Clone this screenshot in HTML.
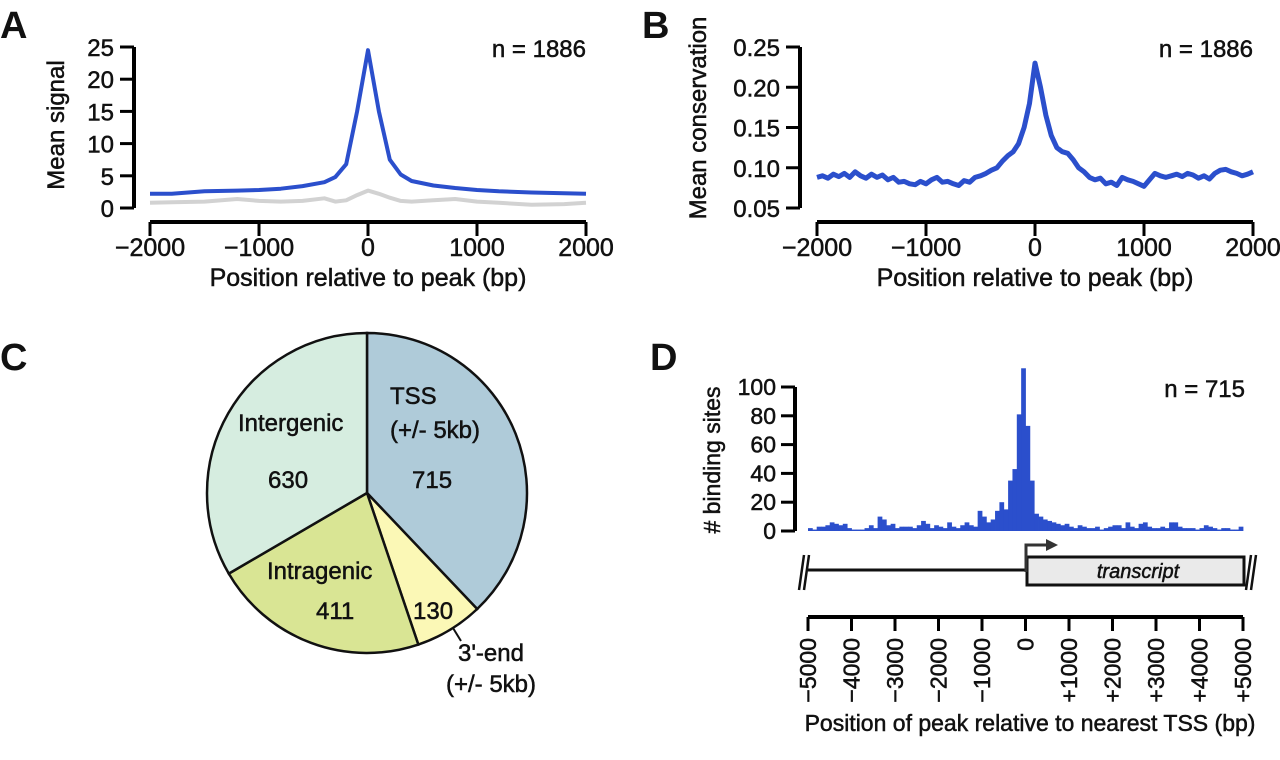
<!DOCTYPE html>
<html><head><meta charset="utf-8"><style>
html,body{margin:0;padding:0;background:#fff;}
svg{display:block;font-family:"Liberation Sans",Arial,sans-serif;}
text{fill:#111;stroke:#111;stroke-width:0.5px;}
.lt{font-weight:bold;stroke-width:0;}
</style></head><body>
<svg id="fig" width="1280" height="760" viewBox="0 0 1280 760" xmlns="http://www.w3.org/2000/svg">
<text class="lt" x="0" y="38" font-size="38">A</text>
<text class="lt" x="642" y="38" font-size="38">B</text>
<text class="lt" x="0" y="370" font-size="38">C</text>
<text class="lt" x="650" y="370" font-size="38">D</text>
<g id="A"></g>
<g id="B"></g>
<g id="C"></g>
<g id="D"></g>
</svg>
<script>
// ---- Panel A data ----
const aX = [-2000,-1800,-1500,-1200,-1000,-800,-600,-400,-300,-200,-100,0,100,200,300,400,600,800,1000,1200,1500,1800,2000];
const aSignal = [2.2,2.2,2.6,2.7,2.8,3.0,3.4,4.0,4.8,6.8,15,24.5,15,7.5,5.2,4.2,3.5,3.1,2.8,2.6,2.4,2.3,2.2];
const aControl = [0.8,0.9,1.0,1.4,1.1,1.0,1.1,1.5,1.0,1.2,2.0,2.7,2.2,1.6,1.1,1.0,1.2,1.4,1.0,0.8,0.5,0.6,0.8];
const aYTicks = [0,5,10,15,20,25];
const xTicks = [-2000,-1000,0,1000,2000];
// ---- Panel B data ----
const bValues = [0.088,0.09,0.087,0.092,0.089,0.093,0.088,0.095,0.09,0.087,0.092,0.088,0.091,0.085,0.088,0.082,0.083,0.08,0.079,0.083,0.08,
0.085,0.088,0.082,0.083,0.08,0.078,0.084,0.082,0.088,0.09,0.093,0.097,0.1,0.108,0.115,0.12,0.13,0.15,0.18,
0.23,
0.2,0.165,0.14,0.125,0.12,0.118,0.11,0.1,0.095,0.088,0.085,0.087,0.08,0.082,0.078,0.088,0.085,0.083,0.08,0.077,
0.085,0.093,0.09,0.088,0.09,0.092,0.089,0.093,0.091,0.087,0.09,0.086,0.093,0.097,0.098,0.095,0.093,0.09,0.092,0.095];
const bYTicks = [0.05,0.10,0.15,0.20,0.25];
const bYLabels = ["0.05","0.10","0.15","0.20","0.25"];
// ---- Panel C data ----
const pieLabels = ["TSS","3'-end","Intragenic","Intergenic"];
const pieValues = [715,130,411,630];
const pieColors = ["#afcbd9","#fbf8b6","#d9e594","#d6ede0"];
// ---- Panel D data ----
const dCounts = [2,1,3,3,4,6,5,4,5,2, 1,1,1,2,4,2,10,8,4,5, 2,3,3,3,2,4,7,5,2,4,
 3,2,6,3,2,4,6,4,3,14, 10,6,8,14,20,15,35,43,81,113,
 73,35,12,10,8,7,6,5,4,5, 3,2,4,3,2,2,3,1,2,3, 4,4,2,6,3,2,5,6,3,2,
 2,3,2,6,6,3,2,2,2,1, 2,4,3,2,1,2,2,1,1,3];
const dYTicks = [0,20,40,60,80,100];
const dXTicks = [-5000,-4000,-3000,-2000,-1000,0,1000,2000,3000,4000,5000];
const dXLabels = ["\u22125000","\u22124000","\u22123000","\u22122000","\u22121000","0","+1000","+2000","+3000","+4000","+5000"];

const NS="http://www.w3.org/2000/svg";
function mk(parent,tag,attrs,txt){const e=document.createElementNS(NS,tag);for(const k in attrs)e.setAttribute(k,attrs[k]);if(txt!==undefined)e.textContent=txt;parent.appendChild(e);return e;}
function lin(d0,d1,r0,r1){return v=>r0+(v-d0)*(r1-r0)/(d1-d0);}

function linePanel(g,opt){
  const sx=lin(-2000,2000,opt.x0,opt.x1), sy=lin(opt.ymin,opt.ymax,opt.yb,opt.yt);
  const ya=mk(g,'line',{x1:opt.ax,y1:opt.yt,x2:opt.ax,y2:opt.yb,stroke:'#000','stroke-width':4});
  
  
  opt.yticks.forEach((t,i)=>{
    const tk=mk(g,'line',{x1:opt.ax-14,x2:opt.ax,y1:sy(t),y2:sy(t),stroke:'#000','stroke-width':3});
    
    
    const tl=mk(g,'text',{x:opt.ax-20,y:sy(t)+9,'text-anchor':'end','font-size':24},opt.ylabels[i]);
    
    
  });
  const xa=mk(g,'line',{x1:opt.x0,x2:opt.x1,y1:222,y2:222,stroke:'#000','stroke-width':4});
  
  
  xTicks.forEach(t=>{
    const tk=mk(g,'line',{x1:sx(t),x2:sx(t),y1:222,y2:236,stroke:'#000','stroke-width':3});
    
    
    const tl=mk(g,'text',{x:sx(t),y:256,'text-anchor':'middle','font-size':25},t<0?'\u2212'+(-t):String(t));
    
    
  });
  const xt=mk(g,'text',{x:(opt.x0+opt.x1)/2,y:286,'text-anchor':'middle','font-size':25},'Position relative to peak (bp)');
  
  
  const yt=mk(g,'text',{transform:`translate(${opt.ytx},${opt.yty}) rotate(-90)`,'text-anchor':'middle','font-size':24},opt.ytitle);
  
  
  const n=mk(g,'text',{x:opt.x1,y:57,'text-anchor':'end','font-size':24},'n = 1886');
  
  
  opt.series.forEach(s=>{
    const pts=s.xs.map((x,i)=>sx(x).toFixed(1)+','+sy(s.ys[i]).toFixed(1)).join(' ');
    const pl=mk(g,'polyline',{points:pts,fill:'none',stroke:s.color,'stroke-width':s.w,'stroke-linejoin':'round'});
    
    
  });
}
linePanel(document.getElementById('A'),{x0:150,x1:586,ax:134,ymin:0,ymax:25,yb:208,yt:47,
  yticks:aYTicks,ylabels:aYTicks.map(String),ytitle:'Mean signal',ytx:64,yty:125,
  series:[{xs:aX,ys:aControl,color:'#d2d2d2',w:4,name:'control-line'},{xs:aX,ys:aSignal,color:'#2b4fcc',w:4,name:'signal-line'}]});
const bX=bValues.map((v,i)=>-2000+i*50);
linePanel(document.getElementById('B'),{x0:817,x1:1253,ax:800,ymin:0.05,ymax:0.25,yb:208,yt:47,
  yticks:bYTicks,ylabels:bYLabels,ytitle:'Mean conservation',ytx:706,yty:118,
  series:[{xs:bX,ys:bValues,color:'#2b4fcc',w:5,name:'conservation-line'}]});

// Panel C pie
(function(){
  const g=document.getElementById('C');
  const cx=367,cy=493,rx=160,ry=160;
  const tot=pieValues.reduce((a,b)=>a+b,0);
  let a0=0;
  const pt=a=>[cx+rx*Math.sin(a),cy-ry*Math.cos(a)];
  pieValues.forEach((v,i)=>{
    const a1=a0+v/tot*2*Math.PI;
    const p0=pt(a0),p1=pt(a1);
    const large=(a1-a0)>Math.PI?1:0;
    const p=mk(g,'path',{d:`M${cx},${cy} L${p0[0]},${p0[1]} A${rx},${ry} 0 ${large} 1 ${p1[0]},${p1[1]} Z`,fill:pieColors[i],stroke:'#111','stroke-width':2.5});
    
    
    a0=a1;
  });
  const labs=[['TSS',390,404],['(+/- 5kb)',390,438],['715',412,488],['Intergenic',238,431],['630',268,488],['Intragenic',267,579],['411',316,619],['130',413,619],["3'-end",458,661],['(+/- 5kb)',446,692]];
  labs.forEach(l=>{
    const t=mk(g,'text',{x:l[1],y:l[2],'font-size':24},l[0]);
    
    
  });
  const ln=mk(g,'line',{x1:453,y1:628,x2:461,y2:641,stroke:'#111','stroke-width':2});
  
  
})();

// Panel D histogram
(function(){
  const g=document.getElementById('D');
  const sx=lin(-5000,5000,808,1243), sy=lin(0,100,531,387);
  const ya=mk(g,'line',{x1:795,x2:795,y1:387,y2:531,stroke:'#000','stroke-width':4});
  
  
  dYTicks.forEach(t=>{
    const tk=mk(g,'line',{x1:781,x2:795,y1:sy(t),y2:sy(t),stroke:'#000','stroke-width':3});
    
    
    const tl=mk(g,'text',{x:776,y:sy(t)+8,'text-anchor':'end','font-size':23},String(t));
    
    
  });
  const yt=mk(g,'text',{transform:'translate(720,460) rotate(-90)','text-anchor':'middle','font-size':23},'# binding sites');
  
  
  const n=mk(g,'text',{x:1245,y:397,'text-anchor':'end','font-size':24},'n = 715');
  
  
  const step=10000/dCounts.length;
  dCounts.forEach((c,i)=>{
    const x0=sx(-5000+i*step),x1=sx(-5000+(i+1)*step);
    const r=mk(g,'rect',{x:x0,y:sy(c),width:x1-x0+0.4,height:sy(0)-sy(c),fill:'#2b4fcc'});
    
    
  });
  const gl=mk(g,'line',{x1:808,x2:1027,y1:570,y2:570,stroke:'#111','stroke-width':3});
  
  
  const bx=mk(g,'rect',{x:1027,y:557,width:217,height:28,fill:'#eaeaea',stroke:'#111','stroke-width':3});
  
  
  const tt=mk(g,'text',{x:1138,y:578,'text-anchor':'middle','font-size':20,'font-style':'italic'},'transcript');
  
  
  const ar=mk(g,'path',{d:'M1026,572 L1026,545 L1048,545',fill:'none',stroke:'#333','stroke-width':3});
  
  
  const ah=mk(g,'path',{d:'M1046,539 L1058,545 L1046,551 Z',fill:'#333'});
  
  
  [[799,'left'],[1246,'right']].forEach(b=>{
    const x=b[0];
    const s=mk(g,'path',{d:`M${x},590 L${x+5},555 M${x+5},590 L${x+10},555`,stroke:'#111','stroke-width':2.5,fill:'none'});
    
    
  });
  const xa=mk(g,'line',{x1:808,x2:1243,y1:617,y2:617,stroke:'#000','stroke-width':4});
  
  
  dXTicks.forEach((t,i)=>{
    const tk=mk(g,'line',{x1:sx(t),x2:sx(t),y1:617,y2:631,stroke:'#000','stroke-width':3});
    
    
    const tl=mk(g,'text',{transform:`translate(${sx(t)+8},638) rotate(-90)`,'text-anchor':'end','font-size':23},dXLabels[i]);
    
    
  });
  const xt=mk(g,'text',{x:1030,y:731,'text-anchor':'middle','font-size':23},'Position of peak relative to nearest TSS (bp)');
  
  
})();
</script>
</body></html>
